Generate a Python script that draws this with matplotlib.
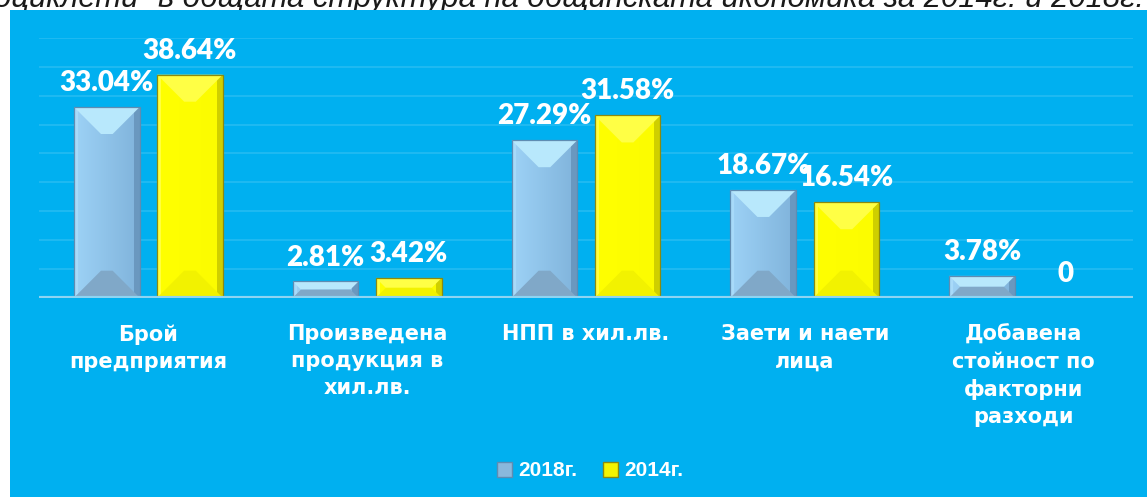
import matplotlib
matplotlib.use("Agg")
import matplotlib.pyplot as plt
from matplotlib.patches import Rectangle, Polygon
from matplotlib.colors import LinearSegmentedColormap
import numpy as np

# ---------------- data ----------------
categories = ["Брой\nпредприятия",
              "Произведена\nпродукция в\nхил.лв.",
              "НПП в хил.лв.",
              "Заети и наети\nлица",
              "Добавена\nстойност по\nфакторни\nразходи"]
series_names = ["2018г.", "2014г."]
values_2018 = [33.04, 2.81, 27.29, 18.67, 3.78]
values_2014 = [38.64, 3.42, 31.58, 16.54, 0]
labels_2018 = ["33.04%", "2.81%", "27.29%", "18.67%", "3.78%"]
labels_2014 = ["38.64%", "3.42%", "31.58%", "16.54%", "0"]
y_ticks = [0, 5, 10, 15, 20, 25, 30, 35, 40, 45]
title_text = 'оциклети" в общата структура на общинската икономика за 2014г. и 2018г.'

# ---------------- style ----------------
W, H = 1147, 497
BG = "#00B0F0"
faces_blue = dict(front_l="#9DD2F6", front_r="#80B3DB", left="#A8DAF9", top="#B8E8FC",
                  right="#6A98BF", bottom="#80A8C8", edge="#5F8CB2")
faces_yel = dict(front_l="#FFFF00", front_r="#FCFC00", left="#FFFF40", top="#FFFF45",
                 right="#CFCF00", bottom="#F2F200", edge="#8A8A10")

fig = plt.figure(figsize=(W / 100, H / 100), dpi=100)
fig.patch.set_facecolor("white")

panel = Rectangle((10 / W, 0), 1 - 10 / W, 1 - 9.5 / H, transform=fig.transFigure,
                  facecolor=BG, edgecolor="none", zorder=-1)
fig.patches.append(panel)

t = fig.text(0, 1 - 7.5 / H, title_text, fontsize=23, style="italic",
             family=["Liberation Sans Narrow", "Liberation Sans", "DejaVu Sans"],
             color="#1a1a1a", ha="left", va="baseline", zorder=-2)
fig.canvas.draw()
r = fig.canvas.get_renderer()
bb = t.get_window_extent(renderer=r)
t.set_fontsize(23 * 1150.0 / bb.width)
t.set_x(-6 / W)

ax = fig.add_axes([39 / W, 1 - 297.7 / H, (1133 - 39) / W, (297.7 - 38) / H])
ax.patch.set_visible(False)
for s in ax.spines.values():
    s.set_visible(False)
ax.set_yticks(y_ticks)
ax.set_yticklabels([])
ax.tick_params(axis="y", length=0)
ax.grid(axis="y", color="#22BAF2", linewidth=1.3, zorder=0)
ax.set_axisbelow(True)
ax.axhline(0, color="#8ED4F2", linewidth=3, zorder=6)

x = np.arange(len(categories))
bw = 0.30
off = 0.19
bars_a = ax.bar(x - off, values_2018, bw, color=faces_blue["front_r"], zorder=2, linewidth=0)
bars_b = ax.bar(x + off, values_2014, bw, color=faces_yel["front_l"], zorder=2, linewidth=0)
ax.set_xlim(-0.5, len(categories) - 0.5)
ax.set_ylim(0, 45)
ax.set_autoscale_on(False)

fig.canvas.draw()
inv = ax.transData.inverted()


def bevel(bar, faces):
    bx, by = bar.get_x(), bar.get_y()
    bwid, bh = bar.get_width(), bar.get_height()
    if bh <= 0:
        return
    cmap = LinearSegmentedColormap.from_list("g", [faces["front_l"], faces["front_r"]])
    ax.imshow(np.linspace(0, 1, 64).reshape(1, -1), cmap=cmap, aspect="auto",
              extent=[bx, bx + bwid, by, by + bh], zorder=2.2, interpolation="bilinear")
    (X0, Y0) = ax.transData.transform((bx, by))
    (X1, Y1) = ax.transData.transform((bx + bwid, by + bh))
    d = min(27.0, (Y1 - Y0) / 2.0, (X1 - X0) / 2.0 - 2)
    sl, sr = min(4.0, d), min(6.0, d)
    polys = [
        ("left", [(X0, Y0), (X0 + sl, Y0), (X0 + sl, Y1), (X0, Y1)]),
        ("right", [(X1, Y0), (X1 - sr, Y0), (X1 - sr, Y1), (X1, Y1)]),
        ("top", [(X0, Y1), (X1, Y1), (X1 - d, Y1 - d), (X0 + d, Y1 - d)]),
        ("bottom", [(X0, Y0), (X1, Y0), (X1 - d, Y0 + d), (X0 + d, Y0 + d)]),
    ]
    for k, p in polys:
        dp = inv.transform(np.array(p))
        ax.add_patch(Polygon(dp, closed=True, facecolor=faces[k], edgecolor="none",
                             linewidth=0, zorder=3))
    ax.add_patch(Rectangle((bx, by), bwid, bh, facecolor="none",
                           edgecolor=faces["edge"], linewidth=0.9, zorder=3.5))


for b in bars_a:
    bevel(b, faces_blue)
for b in bars_b:
    bevel(b, faces_yel)

lab_kw = dict(textcoords="offset points", ha="center", va="baseline", fontsize=20,
              fontweight="heavy", family=["Lato", "DejaVu Sans"], color="white", zorder=7)
for xi, v, lab in zip(x - off, values_2018, labels_2018):
    ax.annotate(lab, (xi, v), xytext=(0, 11.5), **lab_kw)
for xi, v, lab in zip(x + off, values_2014, labels_2014):
    ax.annotate(lab, (xi, v), xytext=(0, 11.5), **lab_kw)

ax.set_xticks(x)
ax.set_xticklabels(categories, fontsize=15, fontweight="bold", color="white",
                   family=["DejaVu Sans"], linespacing=1.45)
ax.tick_params(axis="x", length=0, pad=19)

handles = [Rectangle((0, 0), 1, 1, facecolor="#8AB8DC", edgecolor=faces_blue["edge"]),
           Rectangle((0, 0), 1, 1, facecolor="#F4F400", edgecolor=faces_yel["edge"])]
leg = fig.legend(handles, series_names, loc="center", bbox_to_anchor=(590 / W, 1 - 471 / H),
                 ncol=2, frameon=False, handlelength=0.75, handleheight=0.75,
                 handletextpad=0.3, columnspacing=1.2,
                 prop=dict(family=["Liberation Sans", "DejaVu Sans"], weight="bold", size=15))
for txt in leg.get_texts():
    txt.set_color("white")

fig.savefig("out.png", dpi=100, facecolor=fig.get_facecolor())
